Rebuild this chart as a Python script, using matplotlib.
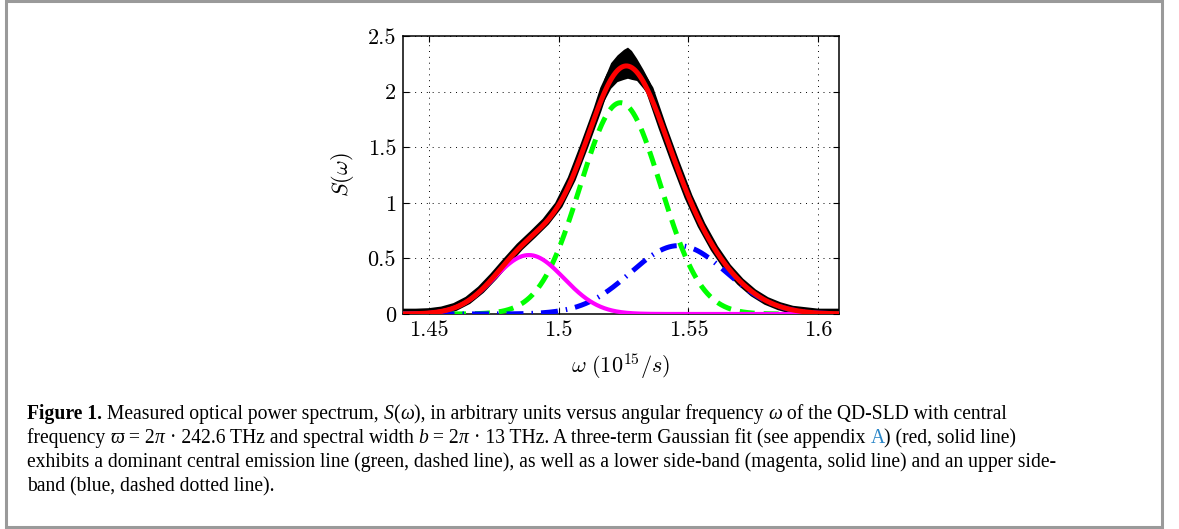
import numpy as np
import matplotlib
matplotlib.use("Agg")
import matplotlib.pyplot as plt
from matplotlib.patches import Rectangle

plt.rcParams["mathtext.fontset"] = "cm"

# measured spectrum, envelope (10^15/s, arb. units)
omega_meas = [1.440, 1.445, 1.450, 1.455, 1.460, 1.465, 1.470, 1.475, 1.480,
              1.485, 1.490, 1.495, 1.500, 1.505, 1.510, 1.515, 1.5175, 1.520,
              1.5225, 1.525, 1.5265, 1.528, 1.530, 1.5325, 1.535, 1.540,
              1.545, 1.550, 1.555, 1.560, 1.565, 1.570, 1.575, 1.580, 1.585,
              1.590, 1.600, 1.608]
s_meas_lo = [0.003, 0.003, 0.006, 0.020, 0.050, 0.110, 0.200, 0.320, 0.450,
             0.580, 0.690, 0.800, 0.950, 1.180, 1.480, 1.790, 1.920, 2.030,
             2.090, 2.110, 2.120, 2.110, 2.100, 2.030, 1.950, 1.630,
             1.320, 1.020, 0.770, 0.560, 0.400, 0.270, 0.170, 0.100, 0.055,
             0.026, 0.003, 0.003]
s_meas_hi = [0.018, 0.018, 0.024, 0.040, 0.075, 0.135, 0.235, 0.360, 0.500,
             0.630, 0.740, 0.860, 1.010, 1.250, 1.560, 1.890, 2.120, 2.260,
             2.330, 2.380, 2.400, 2.370, 2.300, 2.200, 2.090, 1.730,
             1.400, 1.090, 0.830, 0.620, 0.440, 0.310, 0.210, 0.135, 0.085,
             0.048, 0.018, 0.018]

# three-term gaussian fit: lower side-band, central line, upper side-band
fit_names = ["lower", "central", "upper"]
fit_amp = [0.53, 1.90, 0.615]
fit_center = [1.4885, 1.5238, 1.5462]
fit_sigma = [0.0135, 0.0155, 0.0185]

xticks = [1.45, 1.5, 1.55, 1.6]
xticklabels = ["1.45", "1.5", "1.55", "1.6"]
yticks = [0, 0.5, 1, 1.5, 2, 2.5]
yticklabels = ["0", "0.5", "1", "1.5", "2", "2.5"]


def gauss(x, a, mu, s):
    return a * np.exp(-(x - mu) ** 2 / (2 * s ** 2))


fig = plt.figure(figsize=(11.79, 5.29), dpi=100)
W, H = 1179, 529
ax = fig.add_axes([403 / W, 1 - 314 / H, 436 / W, 278 / H])

x = np.linspace(1.44, 1.608, 800)
comps = [gauss(x, a, m, s) for a, m, s in zip(fit_amp, fit_center, fit_sigma)]

lo = np.array(s_meas_lo)
hi = np.array(s_meas_hi)
ax.fill_between(omega_meas, lo, hi, color="black", lw=0, zorder=2)
ax.plot(omega_meas, (lo + hi) / 2, color="black", lw=6.0, zorder=2,
        solid_joinstyle="round", solid_capstyle="butt")

ax.plot(x, comps[1], color="#00ff00", lw=3.6, ls=(0, (3, 1.8)), zorder=3)
ax.plot(x, comps[2], color="#0000ff", lw=3.6, ls=(0, (3.4, 1.6, 0.3, 1.6)),
        zorder=3)
ax.plot(x, comps[0], color="#ff00ff", lw=3.0, zorder=4)
ax.plot(x, comps[0] + comps[1] + comps[2], color="red", lw=3.6, zorder=5)

ax.set_xlim(1.44, 1.608)
ax.set_ylim(0, 2.5)
ax.set_xticks(xticks)
ax.set_xticklabels(xticklabels, family="cmr10", fontsize=16)
ax.set_yticks(yticks)
ax.set_yticklabels(yticklabels, family="cmr10", fontsize=16)
ax.tick_params(direction="in", top=True, right=True, length=4, width=0.8,
               pad=5)
ax.grid(True, color="black", lw=0.7, ls=(0, (1, 5)))
for sp in ax.spines.values():
    sp.set_linewidth(1.1)
ax.set_xlabel(r"$\omega\ (10^{15}/s)$", fontsize=16, labelpad=8)
ax.set_ylabel(r"$S(\omega)$", fontsize=16, labelpad=8)

# outer frame
fig.patches.append(Rectangle((6 / W, 1 - 527 / H), 1156 / W, 526 / H,
                             transform=fig.transFigure, fill=False,
                             edgecolor="#9a9a9a", lw=2.2))

# caption, written piece by piece
fam = ["Liberation Serif", "DejaVu Serif"]
fs = 14.1
n, it, bf, ln = {}, {"style": "italic"}, {"weight": "bold"}, {"color": "#2a86c8"}
caption = [
    [("Figure 1.", bf), (" Measured optical power spectrum, ", n), ("S", it),
     ("(", n), ("\u03c9", it), ("), in arbitrary units versus angular frequency ", n),
     ("\u03c9", it), (" of the QD-SLD with central", n)],
    [("frequency ", n), ("\u03d6", it), (" = 2", n), ("\u03c0", it),
     (" \u00b7 242.6 THz and spectral width ", n), ("b", it), (" = 2", n),
     ("\u03c0", it), (" \u00b7 13 THz. A three-term Gaussian fit (see appendix ", n),
     ("A", ln), (") (red, solid line)", n)],
    [("exhibits a dominant central emission line (green, dashed line), as well "
      "as a lower side-band (magenta, solid line) and an upper side-", n)],
    [("band (blue, dashed dotted line).", n)],
]
line_y = [412, 436, 460, 484]
renderer = fig.canvas.get_renderer()
for parts, py in zip(caption, line_y):
    px = 27
    for txt, kw in parts:
        t = fig.text(px / W, 1 - py / H, txt, family=fam, fontsize=fs,
                     va="center_baseline", ha="left", **kw)
        px += t.get_window_extent(renderer).width

fig.savefig("out.png", dpi=100)
